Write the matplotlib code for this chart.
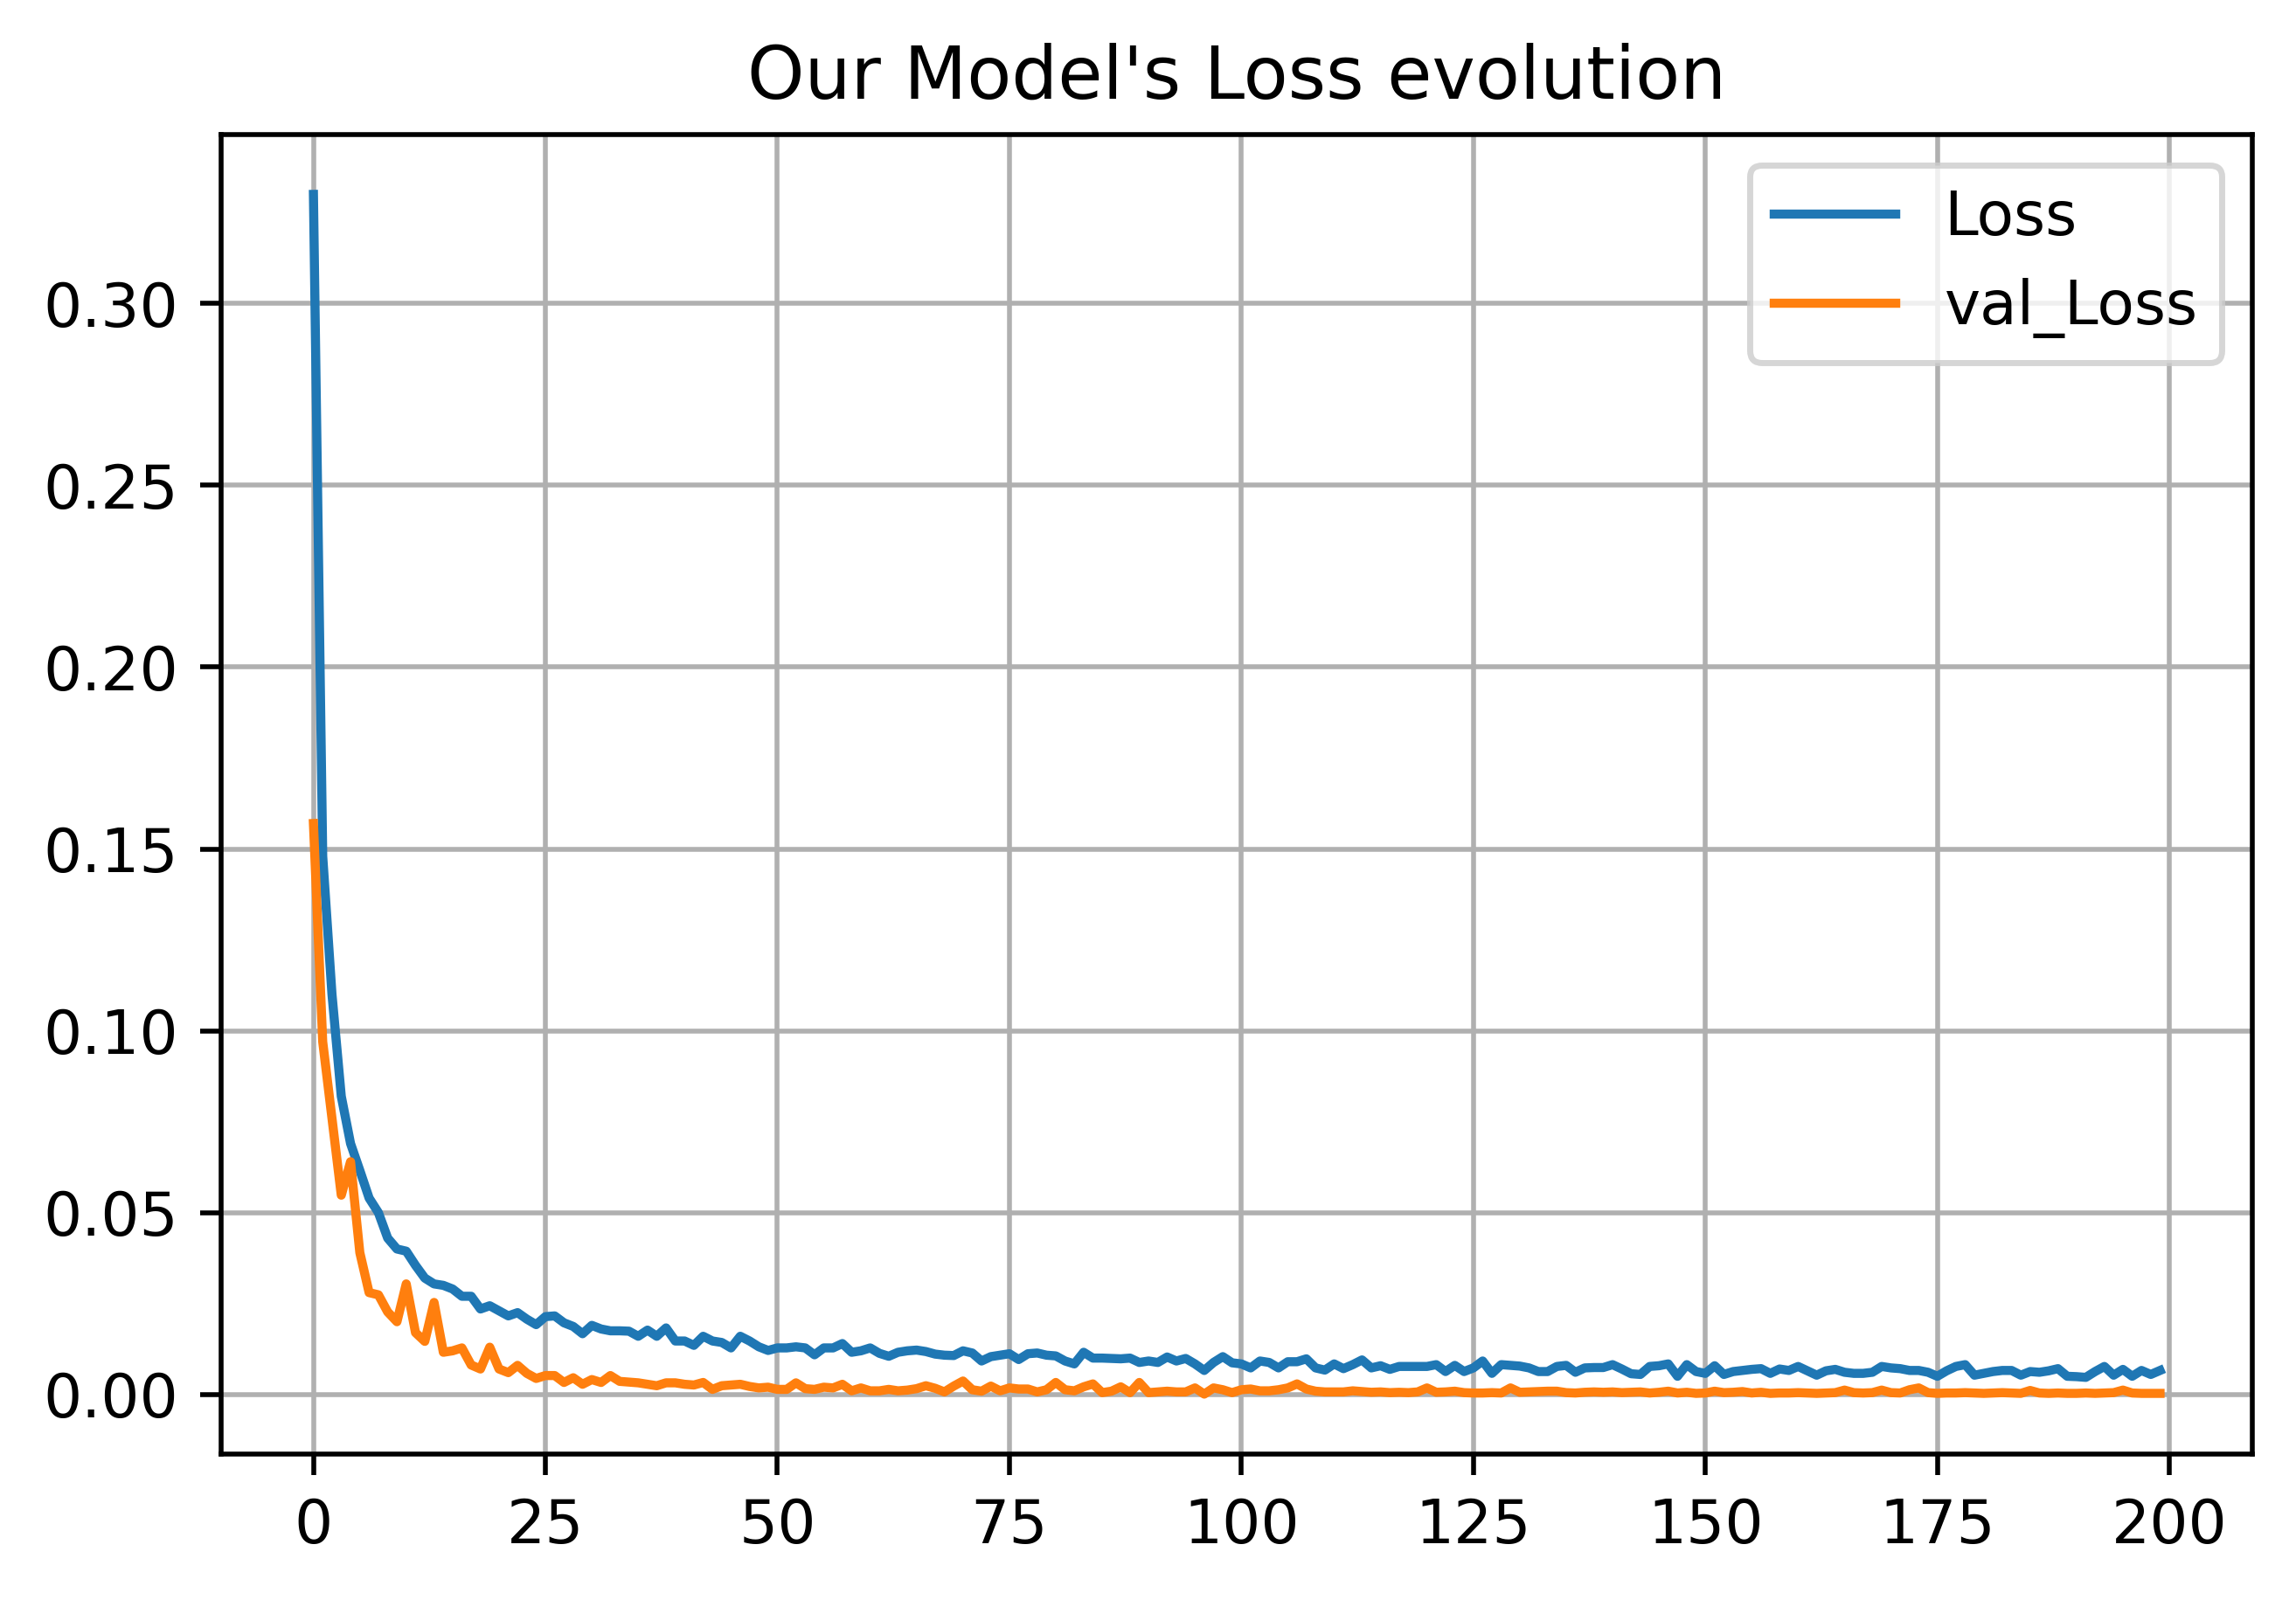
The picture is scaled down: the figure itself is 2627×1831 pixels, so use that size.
import matplotlib
matplotlib.use("Agg")
import matplotlib.pyplot as plt

# values, one per epoch
loss = [
    0.330, 0.148, 0.110, 0.082, 0.069, 0.0616, 0.054, 0.050, 0.043, 0.040,
    0.0394, 0.0355, 0.032, 0.0304, 0.030, 0.029, 0.027, 0.027, 0.0235, 0.0244,
    0.023, 0.0216, 0.0225, 0.0207, 0.0192, 0.0214, 0.0216, 0.0197, 0.0187, 0.0167,
    0.019, 0.018, 0.0175, 0.0175, 0.0174, 0.016, 0.0177, 0.016, 0.0183, 0.0147,
    0.0147, 0.0135, 0.016, 0.0147, 0.0143, 0.0128, 0.016, 0.0147, 0.0131, 0.0121,
    0.0128, 0.0128, 0.0131, 0.0128, 0.0109, 0.0128, 0.0128, 0.014, 0.0116, 0.012,
    0.0128, 0.0113, 0.0105, 0.0116, 0.012, 0.0122, 0.0118, 0.0111, 0.0108, 0.0107,
    0.012, 0.0114, 0.0092, 0.0104, 0.0108, 0.0112, 0.0096, 0.0112, 0.0114, 0.0108,
    0.0106, 0.0092, 0.0084, 0.0116, 0.010, 0.010, 0.0099, 0.0098, 0.010, 0.0088,
    0.0092, 0.0088, 0.0103, 0.0092, 0.0099, 0.0084, 0.0066, 0.0088, 0.0104, 0.0087,
    0.0084, 0.0073, 0.0092, 0.0088, 0.0073, 0.009, 0.009, 0.0098, 0.0073, 0.0067,
    0.0084, 0.0071, 0.0082, 0.0095, 0.0073, 0.0079, 0.0069, 0.0077, 0.0077, 0.0077,
    0.0077, 0.0082, 0.0063, 0.008, 0.0063, 0.0073, 0.0092, 0.0058, 0.0082, 0.008,
    0.0078, 0.0073, 0.0063, 0.0063, 0.0077, 0.008, 0.0061, 0.0073, 0.0074, 0.0074,
    0.0082, 0.007, 0.0057, 0.0055, 0.0077, 0.0079, 0.0084, 0.005, 0.0082, 0.0063,
    0.0058, 0.0079, 0.0055, 0.0063, 0.0066, 0.0069, 0.0071, 0.0058, 0.007, 0.0066,
    0.0077, 0.0065, 0.0053, 0.0065, 0.0069, 0.0061, 0.0058, 0.0058, 0.0061, 0.0077,
    0.0073, 0.0071, 0.0066, 0.0066, 0.0061, 0.005, 0.0065, 0.0077, 0.0082, 0.0053,
    0.0058, 0.0063, 0.0066, 0.0066, 0.0053, 0.0063, 0.0061, 0.0065, 0.0071, 0.005,
    0.0049, 0.0047, 0.0063, 0.0077, 0.0053, 0.0069, 0.005, 0.0066, 0.0055, 0.0066,
]

val_loss = [
    0.157, 0.097, 0.076, 0.0548, 0.064, 0.039, 0.028, 0.0274, 0.0227, 0.020,
    0.0304, 0.017, 0.0146, 0.0253, 0.0116, 0.012, 0.0128, 0.0081, 0.007, 0.013,
    0.007, 0.006, 0.008, 0.0058, 0.0044, 0.0052, 0.0052, 0.0033, 0.0046, 0.0028,
    0.0041, 0.0033, 0.0052, 0.0036, 0.0034, 0.0032, 0.0028, 0.0024, 0.0032, 0.0032,
    0.0028, 0.0026, 0.0033, 0.0014, 0.0024, 0.0026, 0.0028, 0.0022, 0.0018, 0.002,
    0.0014, 0.0014, 0.0032, 0.0016, 0.0014, 0.002, 0.0018, 0.0028, 0.001, 0.0018,
    0.001, 0.001, 0.0014, 0.001, 0.0012, 0.0016, 0.0024, 0.0017, 0.0007, 0.0023,
    0.0037, 0.0013, 0.0009, 0.0023, 0.001, 0.0018, 0.0015, 0.0015, 0.0007, 0.0013,
    0.0033, 0.0013, 0.001, 0.0021, 0.0029, 0.0005, 0.0009, 0.0021, 0.0005, 0.0033,
    0.0005, 0.0007, 0.0009, 0.0007, 0.0007, 0.0018, 0.0001, 0.0018, 0.0013, 0.0005,
    0.0013, 0.0015, 0.001, 0.001, 0.0013, 0.0018, 0.0029, 0.0015, 0.0009, 0.0007,
    0.0007, 0.0007, 0.001, 0.0008, 0.0006, 0.0007, 0.0005, 0.0006, 0.0005, 0.0007,
    0.0018, 0.0006, 0.0007, 0.0009, 0.0005, 0.0004, 0.0004, 0.0005, 0.0004, 0.0018,
    0.0006, 0.0007, 0.0008, 0.0009, 0.0009, 0.0005, 0.0004, 0.0006, 0.0007, 0.0006,
    0.0007, 0.0005, 0.0006, 0.0007, 0.0004, 0.0006, 0.0009, 0.0004, 0.0006, 0.0003,
    0.0004, 0.0009, 0.0005, 0.0006, 0.0008, 0.0004, 0.0006, 0.0003, 0.0004, 0.0004,
    0.0005, 0.0004, 0.0003, 0.0004, 0.0005, 0.0012, 0.0005, 0.0004, 0.0005, 0.0012,
    0.0005, 0.0004, 0.0013, 0.0018, 0.0005, 0.0003, 0.0004, 0.0004, 0.0005, 0.0004,
    0.0003, 0.0004, 0.0005, 0.0004, 0.0003, 0.0011, 0.0004, 0.0003, 0.0004, 0.0003,
    0.0003, 0.0004, 0.0003, 0.0004, 0.0005, 0.0012, 0.0004, 0.0003, 0.0003, 0.0003,
]

epochs = list(range(len(loss)))

fig = plt.figure(figsize=(2627 / 500, 1831 / 500), dpi=500)
ax = fig.add_axes([0.0963, 0.0912, 0.8847, 0.8248])

ax.plot(epochs, loss, label="Loss")
ax.plot(epochs, val_loss, label="val_Loss")

ax.set_title("Our Model's Loss evolution")
ax.set_xticks(range(0, 201, 25))
ax.grid(True)
ax.legend(loc="upper right")

fig.savefig("out.png", dpi=500)
